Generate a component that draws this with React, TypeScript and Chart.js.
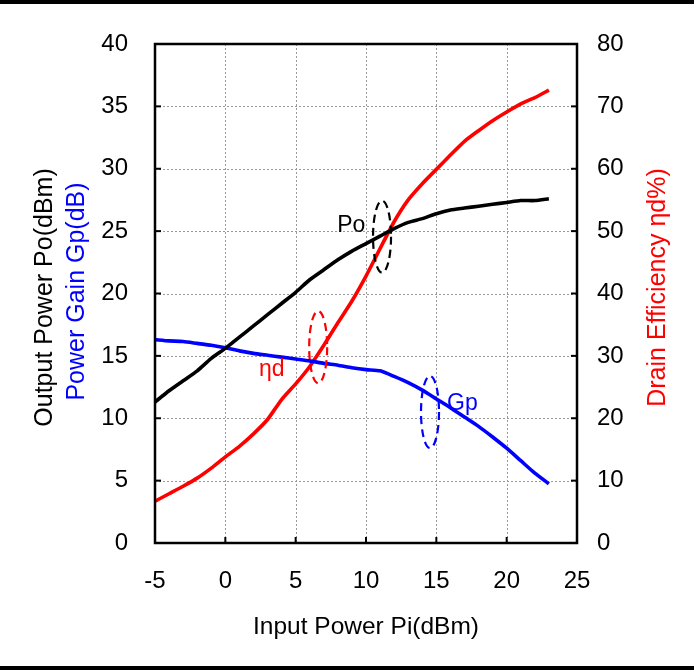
import React, { useEffect, useRef } from "react";
import { Chart, registerables } from "chart.js";

Chart.register(...registerables);

// ---- Data ----
const inputPower = [-5, -4, -3, -2, -1, 0, 1, 2, 3, 4, 5, 6, 7, 8, 9, 10, 11, 12, 13, 14, 15, 16, 17, 18, 19, 20, 21, 22, 23];
const outputPower = [11.3, 12.2, 13.0, 13.8, 14.8, 15.6, 16.5, 17.4, 18.3, 19.2, 20.1, 21.1, 21.9, 22.7, 23.4, 24.0, 24.6, 25.2, 25.7, 26.0, 26.4, 26.7, 26.85, 27.0, 27.15, 27.3, 27.45, 27.45, 27.6];
const powerGain = [16.3, 16.2, 16.15, 16.0, 15.85, 15.65, 15.4, 15.2, 15.05, 14.9, 14.75, 14.6, 14.4, 14.25, 14.05, 13.9, 13.8, 13.35, 12.85, 12.25, 11.55, 10.85, 10.1, 9.35, 8.5, 7.6, 6.6, 5.6, 4.75];
const drainEfficiency = [6.7, 7.9, 9.1, 10.4, 12.0, 13.8, 15.5, 17.5, 19.8, 23.0, 25.5, 28.3, 31.7, 35.3, 38.8, 42.8, 47.2, 51.5, 55.0, 57.6, 59.9, 62.2, 64.4, 66.1, 67.7, 69.1, 70.4, 71.4, 72.6];

const xRange = [-5, 25];
const leftRange = [0, 40];
const rightRange = [0, 80];

const xTitle = "Input Power Pi(dBm)";
const leftTitleOuter = "Output Power Po(dBm)";
const leftTitleInner = "Power Gain Gp(dB)";
const rightTitle = "Drain Efficiency ηd%)";

// annotation markers
const annoLabels = ["Po", "ηd", "Gp"];
const annoLabelX = [8.95, 3.3, 16.85];
const annoLabelY = [25.4, 13.9, 11.2];
const annoEllipseX = [11.14, 6.6, 14.55];
const annoEllipseY = [24.55, 15.7, 10.5];
const annoColors = ["#000000", "#ff0000", "#0000ff"];

const FONT = "Arial, 'Liberation Sans', sans-serif";

const decorPlugin = {
  id: "decor",
  beforeDatasetsDraw(chart: any) {
    const { ctx, chartArea: a, scales } = chart;
    const sx = scales.x;
    const sy = scales.yL;
    ctx.save();
    ctx.strokeStyle = "#9a9a9a";
    ctx.lineWidth = 1;
    ctx.setLineDash([2, 2]);
    sx.ticks.forEach((t: any) => {
      if (t.value <= xRange[0] || t.value >= xRange[1]) return;
      const px = Math.round(sx.getPixelForValue(t.value)) + 0.5;
      ctx.beginPath();
      ctx.moveTo(px, a.top);
      ctx.lineTo(px, a.bottom);
      ctx.stroke();
    });
    sy.ticks.forEach((t: any) => {
      if (t.value <= leftRange[0] || t.value >= leftRange[1]) return;
      const py = Math.round(sy.getPixelForValue(t.value)) + 0.5;
      ctx.beginPath();
      ctx.moveTo(a.left, py);
      ctx.lineTo(a.right, py);
      ctx.stroke();
    });
    ctx.restore();
  },
  afterDatasetsDraw(chart: any) {
    const { ctx, chartArea: a, scales, width, height } = chart;
    const sx = scales.x;
    const sy = scales.yL;
    const sr = scales.yR;
    ctx.save();
    // plot frame
    ctx.setLineDash([]);
    ctx.strokeStyle = "#000";
    ctx.lineWidth = 2.5;
    ctx.strokeRect(a.left, a.top, a.right - a.left, a.bottom - a.top);
    // inward tick marks
    ctx.lineWidth = 2;
    const tl = 6;
    sx.ticks.forEach((t: any) => {
      const px = sx.getPixelForValue(t.value);
      ctx.beginPath();
      ctx.moveTo(px, a.bottom);
      ctx.lineTo(px, a.bottom - tl);
      ctx.stroke();
    });
    sy.ticks.forEach((t: any) => {
      const py = sy.getPixelForValue(t.value);
      ctx.beginPath();
      ctx.moveTo(a.left, py);
      ctx.lineTo(a.left + tl, py);
      ctx.stroke();
    });
    sr.ticks.forEach((t: any) => {
      const py = sr.getPixelForValue(t.value);
      ctx.beginPath();
      ctx.moveTo(a.right, py);
      ctx.lineTo(a.right - tl, py);
      ctx.stroke();
    });
    // annotations
    annoLabels.forEach((lab, i) => {
      const cx = sx.getPixelForValue(annoEllipseX[i]);
      const cy = sy.getPixelForValue(annoEllipseY[i]);
      ctx.strokeStyle = annoColors[i];
      ctx.lineWidth = 2.2;
      ctx.setLineDash([8, 5]);
      ctx.beginPath();
      ctx.ellipse(cx, cy, 9, 36, 0, 0, Math.PI * 2);
      ctx.stroke();
      ctx.setLineDash([]);
      ctx.fillStyle = annoColors[i];
      ctx.font = `23px ${FONT}`;
      ctx.textAlign = "center";
      ctx.textBaseline = "middle";
      ctx.fillText(lab, sx.getPixelForValue(annoLabelX[i]), sy.getPixelForValue(annoLabelY[i]));
    });
    // axis titles
    const midY = (a.top + a.bottom) / 2;
    ctx.textAlign = "center";
    ctx.textBaseline = "middle";
    ctx.fillStyle = "#000";
    ctx.font = `24.5px ${FONT}`;
    ctx.fillText(xTitle, (a.left + a.right) / 2, 627);
    ctx.font = `25px ${FONT}`;
    const vtext = (txt: string, x: number, y: number, color: string) => {
      ctx.save();
      ctx.translate(x, y);
      ctx.rotate(-Math.PI / 2);
      ctx.fillStyle = color;
      ctx.fillText(txt, 0, 0);
      ctx.restore();
    };
    vtext(leftTitleOuter, 45, midY + 4, "#000");
    vtext(leftTitleInner, 77, midY - 2, "#0000ff");
    vtext(rightTitle, 658, midY - 6, "#ff0000");
    // top / bottom rules
    ctx.fillStyle = "#000";
    ctx.fillRect(0, 0, width, 4);
    ctx.fillRect(0, height - 4, width, 4);
    ctx.restore();
  },
};

export default function App() {
  const ref = useRef<HTMLCanvasElement | null>(null);
  useEffect(() => {
    if (!ref.current) return;
    const pts = (ys: number[]) => inputPower.map((x, i) => ({ x, y: ys[i] }));
    const chart = new Chart(ref.current, {
      type: "line",
      data: {
        datasets: [
          { label: "Po", data: pts(outputPower), borderColor: "#000000", yAxisID: "yL" },
          { label: "Gp", data: pts(powerGain), borderColor: "#0000ff", yAxisID: "yL" },
          { label: "ηd", data: pts(drainEfficiency), borderColor: "#ff0000", yAxisID: "yR" },
        ],
      },
      options: {
        responsive: false,
        animation: false,
        devicePixelRatio: 1,
        layout: { padding: { top: 44, left: 0, right: 0, bottom: 0 } },
        elements: {
          line: { borderWidth: 3.6, tension: 0.2, fill: false },
          point: { radius: 0 },
        },
        plugins: { legend: { display: false }, tooltip: { enabled: false } },
        scales: {
          x: {
            type: "linear",
            min: xRange[0],
            max: xRange[1],
            grid: { display: false, drawTicks: false },
            border: { display: false },
            ticks: { stepSize: 5, color: "#000", padding: 24, font: { size: 24, family: FONT } },
            afterFit: (s: any) => { s.height = 127; },
          },
          yL: {
            type: "linear",
            position: "left",
            min: leftRange[0],
            max: leftRange[1],
            grid: { display: false, drawTicks: false },
            border: { display: false },
            ticks: { stepSize: 5, color: "#000", padding: 27, font: { size: 24, family: FONT } },
            afterFit: (s: any) => { s.width = 155; },
          },
          yR: {
            type: "linear",
            position: "right",
            min: rightRange[0],
            max: rightRange[1],
            grid: { display: false, drawTicks: false },
            border: { display: false },
            ticks: { stepSize: 10, color: "#000", padding: 20, font: { size: 24, family: FONT } },
            afterFit: (s: any) => { s.width = 117; },
          },
        },
      } as any,
      plugins: [decorPlugin],
    });
    return () => chart.destroy();
  }, []);
  return (
    <div style={{ position: "fixed", left: 0, top: 0, width: 694, height: 670, background: "#fff" }}>
      <canvas ref={ref} width={694} height={670} style={{ display: "block" }} />
    </div>
  );
}
